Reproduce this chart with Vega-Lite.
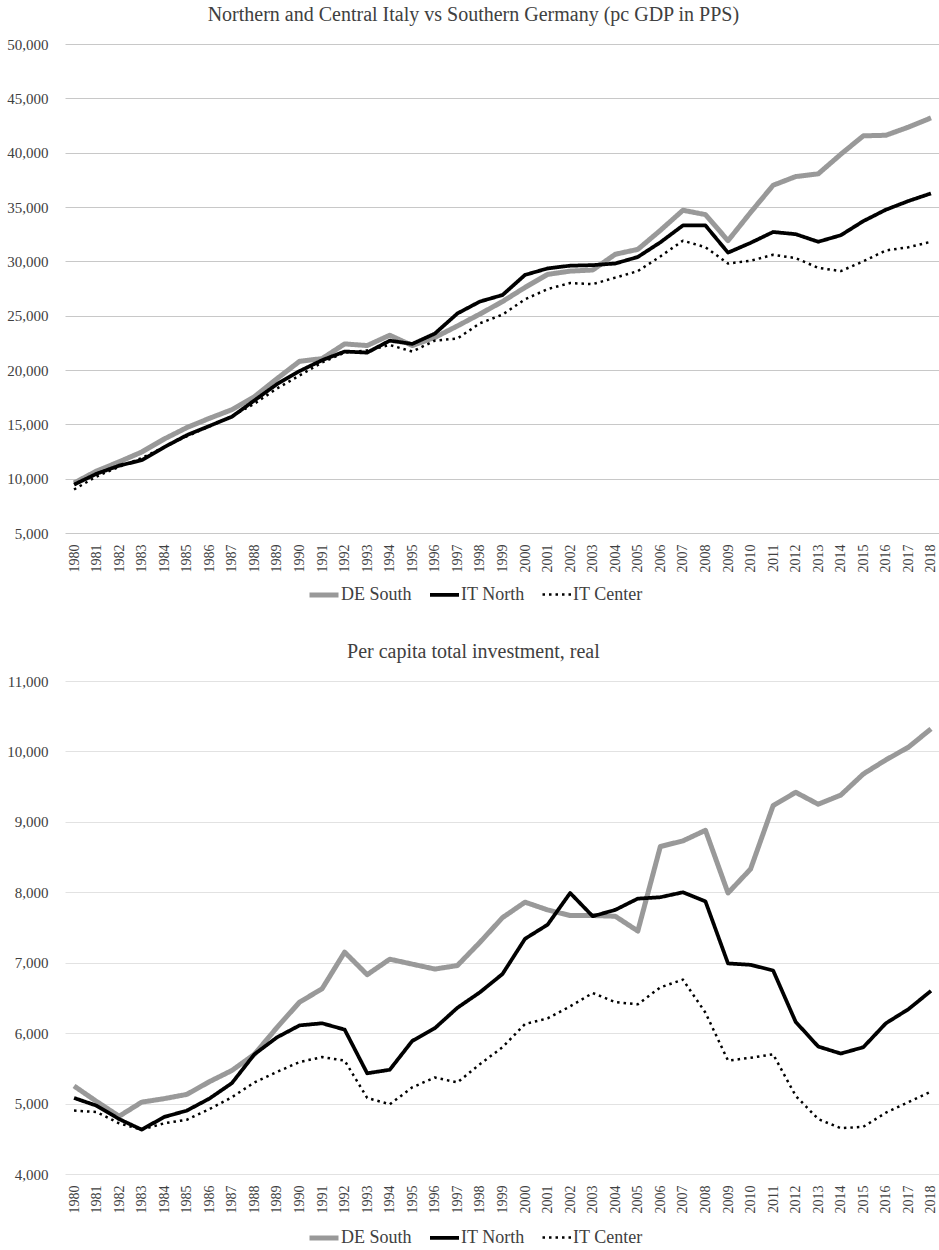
{
  "$schema": "https://vega.github.io/schema/vega-lite/v6.json",
  "padding": {"left": 6, "top": 5, "right": 0, "bottom": 0},
  "spacing": 38,
  "background": "white",
  "config": {
    "view": {"stroke": null},
    "font": "Liberation Serif",
    "title": {"fontSize": 20, "fontWeight": "normal", "color": "#404040", "font": "Liberation Serif", "anchor": "middle", "frame": "bounds", "offset": 12},
    "axis": {"labelFont": "Liberation Serif", "labelColor": "#404040", "ticks": false, "tickSize": 0, "title": null, "domain": false},
    "axisX": {"labelAngle": -90, "labelFontSize": 14, "labelPadding": 11, "grid": false},
    "axisY": {"labelFontSize": 15, "labelPadding": 17, "gridWidth": 1},
    "legend": {"direction": "horizontal", "title": null, "labelFont": "Liberation Serif", "labelFontSize": 18, "labelColor": "#404040", "symbolSize": 841, "labelOffset": 0, "columnPadding": 16, "symbolType": "stroke"},
    "line": {"strokeJoin": "round", "strokeCap": "butt"}
  },
  "resolve": {
    "scale": {"color": "independent", "strokeDash": "independent", "strokeWidth": "independent"},
    "legend": {"color": "independent", "strokeDash": "independent", "strokeWidth": "independent"}
  },
  "datasets": {
    "d": [
      {"year":1980,"region":"DE South","gdp":9600,"inv":5250},
      {"year":1981,"region":"DE South","gdp":10700,"inv":5030},
      {"year":1982,"region":"DE South","gdp":11550,"inv":4820},
      {"year":1983,"region":"DE South","gdp":12450,"inv":5020},
      {"year":1984,"region":"DE South","gdp":13650,"inv":5070},
      {"year":1985,"region":"DE South","gdp":14700,"inv":5130},
      {"year":1986,"region":"DE South","gdp":15550,"inv":5310},
      {"year":1987,"region":"DE South","gdp":16350,"inv":5470},
      {"year":1988,"region":"DE South","gdp":17550,"inv":5700},
      {"year":1989,"region":"DE South","gdp":19200,"inv":6080},
      {"year":1990,"region":"DE South","gdp":20800,"inv":6440},
      {"year":1991,"region":"DE South","gdp":21050,"inv":6630},
      {"year":1992,"region":"DE South","gdp":22400,"inv":7150},
      {"year":1993,"region":"DE South","gdp":22250,"inv":6830},
      {"year":1994,"region":"DE South","gdp":23200,"inv":7050},
      {"year":1995,"region":"DE South","gdp":22250,"inv":6980},
      {"year":1996,"region":"DE South","gdp":23000,"inv":6910},
      {"year":1997,"region":"DE South","gdp":24050,"inv":6960},
      {"year":1998,"region":"DE South","gdp":25150,"inv":7290},
      {"year":1999,"region":"DE South","gdp":26300,"inv":7640},
      {"year":2000,"region":"DE South","gdp":27600,"inv":7860},
      {"year":2001,"region":"DE South","gdp":28800,"inv":7750},
      {"year":2002,"region":"DE South","gdp":29100,"inv":7670},
      {"year":2003,"region":"DE South","gdp":29200,"inv":7670},
      {"year":2004,"region":"DE South","gdp":30650,"inv":7660},
      {"year":2005,"region":"DE South","gdp":31100,"inv":7450},
      {"year":2006,"region":"DE South","gdp":32850,"inv":8650},
      {"year":2007,"region":"DE South","gdp":34700,"inv":8730},
      {"year":2008,"region":"DE South","gdp":34300,"inv":8880},
      {"year":2009,"region":"DE South","gdp":31900,"inv":7990},
      {"year":2010,"region":"DE South","gdp":34500,"inv":8330},
      {"year":2011,"region":"DE South","gdp":37000,"inv":9230},
      {"year":2012,"region":"DE South","gdp":37800,"inv":9420},
      {"year":2013,"region":"DE South","gdp":38050,"inv":9250},
      {"year":2014,"region":"DE South","gdp":39850,"inv":9380},
      {"year":2015,"region":"DE South","gdp":41550,"inv":9680},
      {"year":2016,"region":"DE South","gdp":41600,"inv":9880},
      {"year":2017,"region":"DE South","gdp":42350,"inv":10060},
      {"year":2018,"region":"DE South","gdp":43200,"inv":10320},
      {"year":1980,"region":"IT North","gdp":9450,"inv":5080},
      {"year":1981,"region":"IT North","gdp":10450,"inv":4970},
      {"year":1982,"region":"IT North","gdp":11200,"inv":4780},
      {"year":1983,"region":"IT North","gdp":11700,"inv":4630},
      {"year":1984,"region":"IT North","gdp":12900,"inv":4810},
      {"year":1985,"region":"IT North","gdp":14000,"inv":4900},
      {"year":1986,"region":"IT North","gdp":14850,"inv":5070},
      {"year":1987,"region":"IT North","gdp":15700,"inv":5290},
      {"year":1988,"region":"IT North","gdp":17200,"inv":5700},
      {"year":1989,"region":"IT North","gdp":18700,"inv":5940},
      {"year":1990,"region":"IT North","gdp":19900,"inv":6110},
      {"year":1991,"region":"IT North","gdp":20900,"inv":6140},
      {"year":1992,"region":"IT North","gdp":21700,"inv":6050},
      {"year":1993,"region":"IT North","gdp":21600,"inv":5430},
      {"year":1994,"region":"IT North","gdp":22700,"inv":5480},
      {"year":1995,"region":"IT North","gdp":22400,"inv":5890},
      {"year":1996,"region":"IT North","gdp":23350,"inv":6070},
      {"year":1997,"region":"IT North","gdp":25200,"inv":6360},
      {"year":1998,"region":"IT North","gdp":26300,"inv":6580},
      {"year":1999,"region":"IT North","gdp":26900,"inv":6840},
      {"year":2000,"region":"IT North","gdp":28750,"inv":7340},
      {"year":2001,"region":"IT North","gdp":29350,"inv":7540},
      {"year":2002,"region":"IT North","gdp":29600,"inv":7990},
      {"year":2003,"region":"IT North","gdp":29650,"inv":7660},
      {"year":2004,"region":"IT North","gdp":29800,"inv":7750},
      {"year":2005,"region":"IT North","gdp":30400,"inv":7910},
      {"year":2006,"region":"IT North","gdp":31750,"inv":7930},
      {"year":2007,"region":"IT North","gdp":33300,"inv":8000},
      {"year":2008,"region":"IT North","gdp":33300,"inv":7870},
      {"year":2009,"region":"IT North","gdp":30800,"inv":6990},
      {"year":2010,"region":"IT North","gdp":31700,"inv":6970},
      {"year":2011,"region":"IT North","gdp":32700,"inv":6890},
      {"year":2012,"region":"IT North","gdp":32500,"inv":6160},
      {"year":2013,"region":"IT North","gdp":31800,"inv":5810},
      {"year":2014,"region":"IT North","gdp":32400,"inv":5710},
      {"year":2015,"region":"IT North","gdp":33700,"inv":5800},
      {"year":2016,"region":"IT North","gdp":34750,"inv":6140},
      {"year":2017,"region":"IT North","gdp":35550,"inv":6340},
      {"year":2018,"region":"IT North","gdp":36250,"inv":6600},
      {"year":1980,"region":"IT Center","gdp":9000,"inv":4900},
      {"year":1981,"region":"IT Center","gdp":10200,"inv":4880},
      {"year":1982,"region":"IT Center","gdp":11100,"inv":4720},
      {"year":1983,"region":"IT Center","gdp":11900,"inv":4630},
      {"year":1984,"region":"IT Center","gdp":12900,"inv":4720},
      {"year":1985,"region":"IT Center","gdp":13900,"inv":4770},
      {"year":1986,"region":"IT Center","gdp":14800,"inv":4920},
      {"year":1987,"region":"IT Center","gdp":15750,"inv":5090},
      {"year":1988,"region":"IT Center","gdp":16900,"inv":5300},
      {"year":1989,"region":"IT Center","gdp":18300,"inv":5450},
      {"year":1990,"region":"IT Center","gdp":19500,"inv":5590},
      {"year":1991,"region":"IT Center","gdp":20700,"inv":5660},
      {"year":1992,"region":"IT Center","gdp":21600,"inv":5610},
      {"year":1993,"region":"IT Center","gdp":21800,"inv":5080},
      {"year":1994,"region":"IT Center","gdp":22300,"inv":4990},
      {"year":1995,"region":"IT Center","gdp":21700,"inv":5230},
      {"year":1996,"region":"IT Center","gdp":22700,"inv":5370},
      {"year":1997,"region":"IT Center","gdp":22900,"inv":5300},
      {"year":1998,"region":"IT Center","gdp":24300,"inv":5560},
      {"year":1999,"region":"IT Center","gdp":25100,"inv":5800},
      {"year":2000,"region":"IT Center","gdp":26500,"inv":6130},
      {"year":2001,"region":"IT Center","gdp":27450,"inv":6210},
      {"year":2002,"region":"IT Center","gdp":28000,"inv":6380},
      {"year":2003,"region":"IT Center","gdp":27900,"inv":6570},
      {"year":2004,"region":"IT Center","gdp":28500,"inv":6440},
      {"year":2005,"region":"IT Center","gdp":29100,"inv":6410},
      {"year":2006,"region":"IT Center","gdp":30450,"inv":6650},
      {"year":2007,"region":"IT Center","gdp":31900,"inv":6760},
      {"year":2008,"region":"IT Center","gdp":31300,"inv":6290},
      {"year":2009,"region":"IT Center","gdp":29800,"inv":5610},
      {"year":2010,"region":"IT Center","gdp":30050,"inv":5650},
      {"year":2011,"region":"IT Center","gdp":30600,"inv":5700},
      {"year":2012,"region":"IT Center","gdp":30300,"inv":5110},
      {"year":2013,"region":"IT Center","gdp":29400,"inv":4780},
      {"year":2014,"region":"IT Center","gdp":29100,"inv":4650},
      {"year":2015,"region":"IT Center","gdp":30000,"inv":4670},
      {"year":2016,"region":"IT Center","gdp":31000,"inv":4870},
      {"year":2017,"region":"IT Center","gdp":31300,"inv":5020},
      {"year":2018,"region":"IT Center","gdp":31800,"inv":5170}
    ]
  },
  "vconcat": [
    {
      "width": 875,
      "height": 489,
      "title": "Northern and Central Italy vs Southern Germany (pc GDP in PPS)",
      "data": {"name": "d"},
      "mark": {"type": "line"},
      "encoding": {
        "x": {"field": "year", "type": "ordinal", "scale": {"type": "point", "padding": 0.4}, "axis": {}},
        "y": {"field": "gdp", "type": "quantitative", "scale": {"domain": [5000, 50000], "nice": false, "zero": false},
              "axis": {"values": [5000, 10000, 15000, 20000, 25000, 30000, 35000, 40000, 45000, 50000], "format": ",.0f", "gridColor": "#c8c8c8"}},
        "color": {"field": "region", "type": "nominal", "scale": {"domain": ["DE South", "IT North", "IT Center"], "range": ["#999999", "#000000", "#000000"]},
                  "legend": {"orient": "none", "legendX": 242, "legendY": 534}},
        "strokeWidth": {"field": "region", "type": "nominal", "scale": {"domain": ["DE South", "IT North", "IT Center"], "range": [5, 2.5, 3.5]}},
        "strokeDash": {"field": "region", "type": "nominal", "scale": {"domain": ["DE South", "IT North", "IT Center"], "range": [[1, 0], [1, 0], [2.5, 4]]}}
      }
    },
    {
      "width": 875,
      "height": 493,
      "title": "Per capita total investment, real",
      "data": {"name": "d"},
      "mark": {"type": "line"},
      "encoding": {
        "x": {"field": "year", "type": "ordinal", "scale": {"type": "point", "padding": 0.4}, "axis": {}},
        "y": {"field": "inv", "type": "quantitative", "scale": {"domain": [4000, 11000], "nice": false, "zero": false},
              "axis": {"values": [4000, 5000, 6000, 7000, 8000, 9000, 10000, 11000], "format": ",.0f", "gridColor": "#e2e2e2"}},
        "color": {"field": "region", "type": "nominal", "scale": {"domain": ["DE South", "IT North", "IT Center"], "range": ["#999999", "#000000", "#000000"]},
                  "legend": {"orient": "none", "legendX": 242, "legendY": 540}},
        "strokeWidth": {"field": "region", "type": "nominal", "scale": {"domain": ["DE South", "IT North", "IT Center"], "range": [5, 2.5, 3.5]}},
        "strokeDash": {"field": "region", "type": "nominal", "scale": {"domain": ["DE South", "IT North", "IT Center"], "range": [[1, 0], [1, 0], [2.5, 4]]}}
      }
    }
  ]
}
